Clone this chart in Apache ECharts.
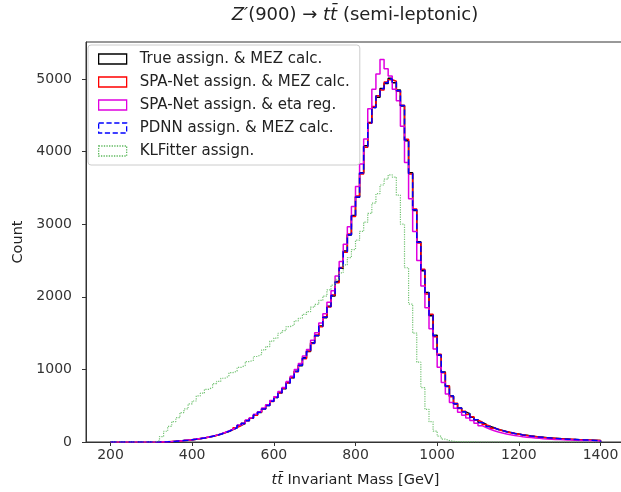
<!DOCTYPE html>
<html>
<head>
<meta charset="utf-8">
<script src="https://cdn.jsdelivr.net/npm/echarts@6/dist/echarts.min.js"></script>
<style>
  html, body { margin: 0; padding: 0; background: #fff; }
  #chart { width: 621px; height: 492px; }
</style>
</head>
<body>
<div id="chart"></div>
<script>
// histogram bins: 10 GeV wide, left edges 200 ... 1390
const binStart = 200
const binWidth = 10

const xTicks = [200, 400, 600, 800, 1000, 1200, 1400]
const yTicks = [0, 1000, 2000, 3000, 4000, 5000]

const seriesNames = [
  'True assign. & MEZ calc.',
  'SPA-Net assign. & MEZ calc.',
  'SPA-Net assign. & eta reg.',
  'PDNN assign. & MEZ calc.',
  'KLFitter assign.'
]

const trueMez = [
  0, 0, 0, 0, 0, 0, 0, 0, 0, 0,
  0, 0, 0, 2, 5, 10, 13, 20, 24, 32,
  37, 47, 54, 67, 77, 93, 106, 128, 145, 172,
  195, 228, 255, 295, 327, 372, 408, 458, 502, 563,
  612, 680, 735, 818, 885, 975, 1052, 1160, 1245, 1368,
  1462, 1598, 1712, 1870, 2012, 2210, 2392, 2630, 2850, 3120,
  3370, 3710, 4080, 4400, 4610, 4750, 4870, 4940, 5010, 4950,
  4850, 4630, 4150, 3710, 3190, 2760, 2360, 2060, 1740, 1470,
  1195, 965, 765, 635, 525, 470, 415, 390, 340, 308,
  268, 245, 213, 196, 171, 160, 141, 132, 116, 110,
  97, 92, 82, 77, 69, 65, 58, 55, 49, 47,
  41, 40, 35, 34, 30, 29, 26, 25, 22, 21
]

const spanetMez = [
  0, 0, 0, 0, 0, 0, 0, 0, 0, 0,
  0, 0, 0, 2, 6, 9, 14, 19, 25, 31,
  38, 45, 56, 66, 79, 91, 108, 127, 148, 170,
  198, 225, 259, 291, 331, 369, 412, 454, 507, 558,
  618, 676, 742, 812, 888, 968, 1062, 1148, 1255, 1358,
  1475, 1588, 1725, 1858, 2025, 2195, 2405, 2615, 2865, 3105,
  3390, 3690, 4060, 4390, 4620, 4770, 4850, 4960, 4990, 4970,
  4830, 4640, 4170, 3690, 3210, 2740, 2380, 2040, 1760, 1450,
  1210, 955, 775, 625, 535, 460, 425, 380, 348, 302,
  275, 240, 218, 190, 176, 156, 145, 128, 120, 106,
  100, 90, 84, 75, 71, 63, 60, 53, 51, 45,
  43, 38, 37, 33, 32, 28, 27, 24, 23, 20
]

const spanetEta = [
  0, 0, 0, 0, 0, 0, 0, 0, 0, 0,
  0, 0, 0, 3, 6, 10, 15, 20, 26, 32,
  40, 48, 57, 68, 80, 95, 111, 130, 151, 175,
  200, 235, 262, 303, 335, 381, 417, 468, 512, 573,
  625, 694, 750, 835, 905, 1000, 1080, 1186, 1275, 1400,
  1505, 1640, 1765, 1925, 2085, 2285, 2485, 2725, 2965, 3245,
  3520, 3830, 4175, 4590, 4860, 5070, 5270, 5140, 5040, 4860,
  4700, 4350, 3850, 3350, 2900, 2500, 2150, 1850, 1560, 1280,
  1030, 820, 660, 545, 465, 410, 368, 330, 295, 258,
  225, 198, 176, 155, 139, 124, 111, 100, 90, 81,
  73, 67, 61, 55, 51, 46, 42, 39, 36, 33,
  30, 28, 26, 24, 22, 20, 19, 17, 16, 15
]

const pdnnMez = [
  0, 0, 0, 0, 0, 0, 0, 0, 0, 0,
  0, 0, 0, 2, 5, 9, 14, 20, 25, 31,
  38, 46, 55, 66, 78, 92, 107, 127, 147, 171,
  196, 227, 257, 293, 329, 371, 411, 456, 504, 561,
  614, 678, 738, 814, 887, 972, 1057, 1155, 1248, 1362,
  1468, 1594, 1718, 1865, 2018, 2205, 2398, 2625, 2855, 3115,
  3375, 3705, 4070, 4395, 4605, 4765, 4865, 4950, 5000, 4960,
  4840, 4635, 4160, 3700, 3200, 2750, 2365, 2055, 1745, 1465,
  1198, 962, 768, 632, 528, 468, 418, 388, 342, 306,
  270, 243, 215, 195, 173, 159, 142, 131, 117, 109,
  98, 91, 83, 76, 70, 64, 59, 54, 50, 46,
  42, 39, 36, 34, 31, 29, 26, 25, 22, 21
]

const klfitter = [
  0, 0, 0, 0, 0, 0, 0, 0, 0, 0,
  0, 18, 75, 148, 215, 282, 335, 405, 455, 525,
  565, 635, 672, 725, 752, 805, 835, 878, 905, 955,
  975, 1028, 1055, 1108, 1125, 1178, 1205, 1268, 1315, 1390,
  1432, 1498, 1535, 1590, 1612, 1668, 1705, 1758, 1795, 1858,
  1895, 1950, 2010, 2095, 2160, 2240, 2330, 2440, 2540, 2650,
  2780, 2900, 3030, 3150, 3290, 3420, 3540, 3620, 3680, 3650,
  3400, 3000, 2400, 1900, 1500, 1100, 750, 450, 280, 150,
  80, 40, 20, 10, 5, 3, 2, 1, 1, 0,
  0, 0, 0, 0, 0, 0, 0, 0, 0, 0,
  0, 0, 0, 0, 0, 0, 0, 0, 0, 0,
  0, 0, 0, 0, 0, 0, 0, 0, 0, 0
]

const colors = ['#000000', '#ff0000', '#e000e0', '#0000ff', '#5cb85c']
const lineTypes = ['solid', 'solid', 'solid', 'dashed', 'dotted']
const allCounts = [trueMez, spanetMez, spanetEta, pdnnMez, klfitter]

const font = 'DejaVu Sans'

// outline of a step histogram: [left edge, count] pairs, closed at the last edge
function stepData(counts) {
  const pts = counts.map((c, i) => [binStart + i * binWidth, c])
  const end = binStart + counts.length * binWidth
  pts.push([end, counts[counts.length - 1]])
  pts.push([end, 0])
  return pts
}

const chart = echarts.init(document.getElementById('chart'), null, { renderer: 'canvas' })

const series = allCounts.map((counts, i) => ({
  name: seriesNames[i],
  type: 'line',
  step: 'end',
  showSymbol: false,
  silent: true,
  lineStyle: {
    color: colors[i],
    width: i === 4 ? 1.2 : 1.5,
    type: lineTypes[i],
    opacity: i === 4 ? 0.85 : 1
  },
  itemStyle: { color: colors[i] },
  data: stepData(counts)
}))

const option = {
  animation: false,
  backgroundColor: '#fff',
  textStyle: { fontFamily: font },
  // the plot is a bit wider than the picture: its right spine is cut off, as in the original
  grid: {
    left: 86,
    top: 42,
    width: 539,
    height: 400,
    outerBoundsMode: 'none',
    show: true,
    borderColor: '#333',
    borderWidth: 1,
    backgroundColor: 'transparent'
  },
  graphic: [
    {
      type: 'text',
      x: 355,
      y: 15,
      style: {
        text: '{i|Z′}(900) → {i|tt̄} (semi-leptonic)',
        fontFamily: font,
        fontSize: 18,
        fill: '#222',
        align: 'center',
        verticalAlign: 'middle',
        rich: {
          i: { fontStyle: 'italic', fontFamily: font, fontSize: 18, fill: '#222' }
        }
      }
    }
  ],
  legend: {
    orient: 'vertical',
    left: 88,
    top: 45,
    padding: [6, 10, 6, 10],
    itemWidth: 28,
    itemHeight: 10,
    itemGap: 7,
    backgroundColor: 'rgba(255,255,255,0.85)',
    borderColor: '#cccccc',
    borderWidth: 1,
    borderRadius: 3,
    selectedMode: false,
    textStyle: {
      fontFamily: font,
      fontSize: 15,
      color: '#222',
      lineHeight: 16,
      padding: [0, 0, 0, 8]
    },
    data: seriesNames.map((n, i) => ({
      name: n,
      icon: 'rect',
      itemStyle: {
        color: 'rgba(0,0,0,0)',
        borderColor: colors[i],
        borderWidth: 1.3,
        borderType: lineTypes[i]
      }
    }))
  },
  xAxis: {
    type: 'value',
    min: 140,
    max: 1460,
    name: '{i|tt̄} Invariant Mass [GeV]',
    nameLocation: 'middle',
    nameGap: 31,
    nameTextStyle: {
      fontFamily: font,
      fontSize: 14.5,
      color: '#222',
      rich: { i: { fontStyle: 'italic', fontFamily: font, fontSize: 14.5, color: '#222' } }
    },
    axisLine: { show: true, lineStyle: { color: '#333', width: 1 } },
    axisTick: { show: true, length: 4, customValues: xTicks, lineStyle: { color: '#333' } },
    axisLabel: {
      customValues: xTicks,
      margin: 6,
      fontSize: 14,
      color: '#333',
      fontFamily: font,
      formatter: v => String(v)
    },
    splitLine: { show: false }
  },
  yAxis: {
    type: 'value',
    min: 0,
    max: 5510,
    name: 'Count',
    nameLocation: 'middle',
    nameRotate: 90,
    nameGap: 57,
    nameTextStyle: { fontFamily: font, fontSize: 14.5, color: '#222' },
    axisLine: { show: true, lineStyle: { color: '#333', width: 1 } },
    axisTick: { show: true, length: 4, customValues: yTicks, lineStyle: { color: '#333' } },
    axisLabel: {
      customValues: yTicks,
      margin: 14,
      fontSize: 14,
      color: '#333',
      fontFamily: font,
      formatter: v => String(v)
    },
    splitLine: { show: false }
  },
  series
}

chart.setOption(option)
</script>
</body>
</html>
